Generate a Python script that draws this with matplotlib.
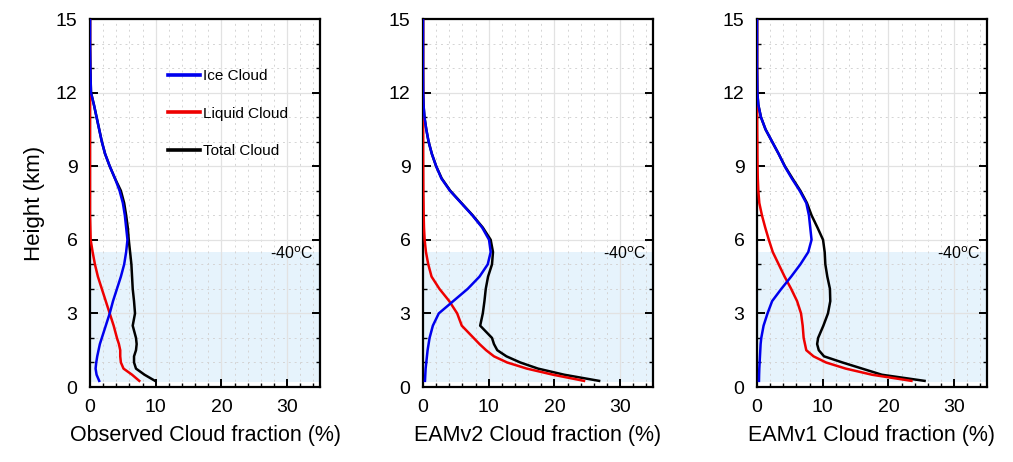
import matplotlib
matplotlib.use("Agg")
import matplotlib.pyplot as plt
from matplotlib.ticker import MultipleLocator

plt.rcParams['font.family'] = ['Liberation Sans', 'DejaVu Sans']

# height levels (km)
heights = [0.25, 0.5, 0.75, 1.0, 1.25, 1.5, 1.75, 2.0, 2.5, 3.0, 3.5, 4.0, 4.5, 5.0, 5.5,
           6.0, 6.5, 7.0, 7.5, 8.0, 8.5, 9.0, 9.5, 10.0, 10.5, 11.0, 11.5, 12.0, 13.0, 14.0, 15.0]

# observed cloud fraction (%)
obs_ice = [1.4, 1.0, 0.85, 0.95, 1.1, 1.3, 1.5, 1.8, 2.4, 3.0, 3.5, 4.1, 4.7, 5.2, 5.5,
           5.7, 5.5, 5.3, 5.0, 4.5, 3.8, 3.0, 2.3, 1.8, 1.4, 1.0, 0.6, 0.15, 0.05, 0.0, 0.0]
obs_liq = [7.5, 6.4, 5.1, 4.7, 4.6, 4.6, 4.4, 4.1, 3.6, 3.0, 2.4, 1.8, 1.2, 0.75, 0.4,
           0.1, 0.05, 0.0, 0.0, 0.0, 0.0, 0.0, 0.0, 0.0, 0.0, 0.0, 0.0, 0.0, 0.0, 0.0, 0.0]
obs_tot = [9.9, 8.3, 7.0, 6.7, 6.7, 7.0, 7.1, 7.0, 6.5, 6.85, 6.7, 6.5, 6.4, 6.3, 6.1,
           5.9, 5.75, 5.5, 5.2, 4.7, 3.8, 3.0, 2.3, 1.8, 1.4, 1.0, 0.6, 0.15, 0.05, 0.0, 0.0]

# EAMv2
v2_ice = [0.3, 0.35, 0.4, 0.5, 0.6, 0.7, 0.85, 1.0, 1.5, 2.4, 4.6, 6.8, 8.6, 9.85, 10.3,
          10.05, 9.0, 7.5, 5.8, 4.1, 2.8, 2.0, 1.35, 0.85, 0.5, 0.22, 0.08, 0.02, 0.0, 0.0, 0.0]
v2_liq = [24.5, 19.8, 15.8, 12.8, 10.8, 9.6, 8.6, 7.7, 5.9, 5.2, 4.0, 2.5, 1.3, 0.8, 0.45,
          0.25, 0.15, 0.1, 0.08, 0.05, 0.04, 0.03, 0.02, 0.02, 0.01, 0.01, 0.0, 0.0, 0.0, 0.0, 0.0]
v2_tot = [26.8, 21.5, 17.5, 14.8, 12.7, 11.3, 10.8, 10.5, 8.7, 9.1, 9.35, 9.55, 9.9, 10.5, 10.65,
          10.3, 9.1, 7.55, 5.85, 4.15, 2.85, 2.0, 1.35, 0.85, 0.5, 0.22, 0.08, 0.02, 0.0, 0.0, 0.0]

# EAMv1
v1_ice = [0.3, 0.32, 0.35, 0.4, 0.45, 0.5, 0.55, 0.65, 1.0, 1.6, 2.3, 3.7, 5.2, 6.6, 7.8,
          8.3, 8.1, 7.9, 7.5, 6.5, 5.3, 4.2, 3.3, 2.3, 1.3, 0.6, 0.2, 0.05, 0.0, 0.0, 0.0]
v1_liq = [23.5, 17.5, 13.5, 10.5, 8.6, 7.5, 7.3, 7.1, 6.95, 6.7, 6.1, 5.2, 4.2, 3.3, 2.4,
          1.8, 1.25, 0.75, 0.35, 0.2, 0.12, 0.08, 0.06, 0.05, 0.03, 0.02, 0.0, 0.0, 0.0, 0.0, 0.0]
v1_tot = [25.5, 19.0, 16.0, 13.0, 10.2, 9.4, 9.15, 9.3, 10.1, 10.8, 11.15, 11.1, 10.7, 10.4, 10.3,
          10.05, 9.2, 8.3, 7.6, 6.6, 5.4, 4.25, 3.3, 2.3, 1.3, 0.6, 0.2, 0.05, 0.0, 0.0, 0.0]

panels = [
    ("Observed Cloud fraction (%)", obs_ice, obs_liq, obs_tot),
    ("EAMv2 Cloud fraction (%)", v2_ice, v2_liq, v2_tot),
    ("EAMv1 Cloud fraction (%)", v1_ice, v1_liq, v1_tot),
]
lefts = [90, 423, 757]

fig = plt.figure(figsize=(10.13, 4.62), dpi=100)

for i, (xlab, ice, liq, tot) in enumerate(panels):
    ax = fig.add_axes([lefts[i] / 1013, 75 / 462, 230 / 1013, 368 / 462])
    ax.set_xlim(0, 35)
    ax.set_ylim(0, 15)

    # shaded region below the -40C level
    ax.axhspan(0.22, 5.5, facecolor='#E6F3FC', edgecolor='none', zorder=0)

    ax.xaxis.set_major_locator(MultipleLocator(10))
    ax.xaxis.set_minor_locator(MultipleLocator(2))
    ax.yaxis.set_major_locator(MultipleLocator(3))
    ax.yaxis.set_minor_locator(MultipleLocator(1))
    ax.grid(which='major', color='#e2e2e2', linewidth=0.9, zorder=1)
    ax.grid(which='minor', color='#d4d4d4', linewidth=0.7, linestyle=(0, (2, 4)), zorder=1)
    ax.set_axisbelow(True)

    ax.plot(tot, heights, color='black', lw=1.8, label='Total Cloud', zorder=3)
    ax.plot(liq, heights, color='#ee0000', lw=1.8, label='Liquid Cloud', zorder=4)
    ax.plot(ice, heights, color='#0000ee', lw=1.8, label='Ice Cloud', zorder=5)

    ax.text(34, 5.45, r'-40$^{\rm o}$C', ha='right', va='center', fontsize=11.5,
            math_fontfamily='dejavusans')

    ax.tick_params(which='both', direction='in', top=False, right=True, labelsize=14,
                   width=1.4, pad=9)
    ax.tick_params(which='major', length=5.5)
    ax.tick_params(which='minor', length=3, width=1.0)
    for sp in ax.spines.values():
        sp.set_linewidth(1.6)

    ax.set_xlabel(xlab, fontsize=15.5, labelpad=6)
    if i == 0:
        ax.set_ylabel('Height (km)', fontsize=16, labelpad=8)
        h, l = ax.get_legend_handles_labels()
        order = [2, 1, 0]
        leg = ax.legend([h[k] for k in order], [l[k] for k in order], loc='upper left',
                        bbox_to_anchor=(0.305, 0.885), frameon=False, fontsize=11,
                        handlelength=2.1, handletextpad=0.2, labelspacing=1.55, borderpad=0)
        for ln in leg.get_lines():
            ln.set_linewidth(2.6)

fig.savefig('out.png', dpi=100)
